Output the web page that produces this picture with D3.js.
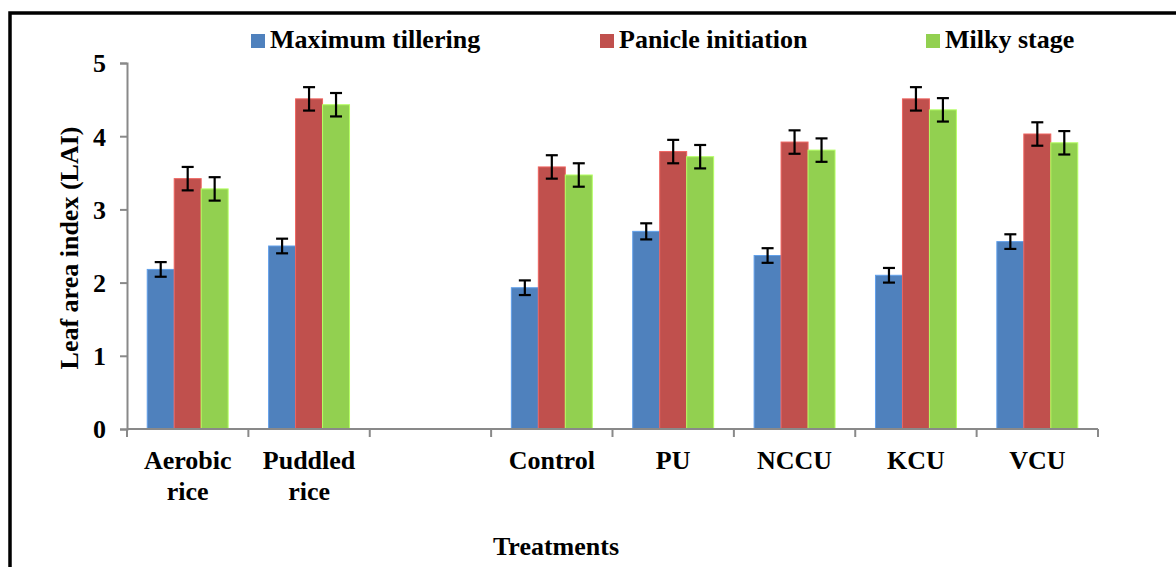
<!DOCTYPE html>
<html>
<head>
<meta charset="utf-8">
<script src="https://cdn.jsdelivr.net/npm/d3@7"></script>
<style>
  body { margin: 0; background: #fff; }
  svg { display: block; font-family: "Liberation Serif", "Times New Roman", serif; font-weight: bold; }
</style>
</head>
<body>
<svg id="chart" width="1176" height="567"></svg>
<script>
const categories = ['Aerobic rice', 'Puddled rice', '', 'Control', 'PU', 'NCCU', 'KCU', 'VCU'];
const series = ['Maximum tillering', 'Panicle initiation', 'Milky stage'];
const colors = ['#4F81BD', '#C0504D', '#92D050'];

// null = empty spacer category
const maxTillering = [2.18, 2.50, null, 1.93, 2.70, 2.37, 2.10, 2.56];
const panicleInit = [3.42, 4.51, null, 3.58, 3.79, 3.92, 4.51, 4.03];
const milkyStage = [3.28, 4.43, null, 3.47, 3.72, 3.81, 4.36, 3.91];

const errTillering = [0.10, 0.10, null, 0.10, 0.11, 0.10, 0.10, 0.10];
const errPanicle = [0.16, 0.16, null, 0.16, 0.16, 0.16, 0.16, 0.16];
const errMilky = [0.16, 0.16, null, 0.16, 0.16, 0.16, 0.16, 0.16];

const yTicks = [0, 1, 2, 3, 4, 5];

const values = [maxTillering, panicleInit, milkyStage];
const errors = [errTillering, errPanicle, errMilky];

const svg = d3.select('#chart');
const margin = { left: 127, right: 1098, top: 63, bottom: 429 };

// frame
svg.append('rect')
  .attr('x', 10).attr('y', 13)
  .attr('width', 1200).attr('height', 600)
  .attr('fill', 'none')
  .attr('stroke', '#000')
  .attr('stroke-width', 3.5);

const catKeys = categories.map((c, i) => i);
const x = d3.scaleBand().domain(catKeys).range([margin.left, margin.right]).padding(0);
const xs = d3.scaleBand().domain(series).range([0, x.bandwidth()]).paddingOuter(0.75).paddingInner(0);
const y = d3.scaleLinear().domain([0, 5]).range([margin.bottom, margin.top]);

// y axis
const yAxis = svg.append('g')
  .attr('transform', `translate(${margin.left},0)`)
  .call(d3.axisLeft(y).tickValues(yTicks).tickSize(7).tickPadding(14).tickFormat(d3.format('d')));
yAxis.select('.domain').attr('stroke', '#898989').attr('stroke-width', 2);
yAxis.selectAll('.tick line').attr('stroke', '#898989').attr('stroke-width', 2);
yAxis.selectAll('.tick text')
  .attr('font-size', 26).attr('font-family', 'Liberation Serif').attr('font-weight', 'bold')
  .attr('fill', '#000').attr('dy', '0.34em');

// bars
const data = [];
categories.forEach((c, i) => {
  series.forEach((s, j) => {
    if (values[j][i] != null) data.push({ ci: i, s: s, j: j, v: values[j][i], e: errors[j][i] });
  });
});

svg.append('g')
  .selectAll('rect')
  .data(data)
  .enter()
  .append('rect')
  .attr('x', d => x(d.ci) + xs(d.s))
  .attr('y', d => y(d.v))
  .attr('width', xs.bandwidth())
  .attr('height', d => y(0) - y(d.v))
  .attr('fill', d => colors[d.j])
  .attr('stroke', d => d3.color(colors[d.j]).brighter(0.6))
  .attr('stroke-width', 1);

// error bars
const eb = svg.append('g')
  .attr('stroke', '#000')
  .attr('stroke-width', 2.2)
  .selectAll('g')
  .data(data)
  .enter()
  .append('g')
  .attr('transform', d => `translate(${x(d.ci) + xs(d.s) + xs.bandwidth() / 2},0)`);
eb.append('line').attr('y1', d => y(d.v + d.e)).attr('y2', d => y(d.v - d.e));
eb.append('line').attr('x1', -6).attr('x2', 6).attr('y1', d => y(d.v + d.e)).attr('y2', d => y(d.v + d.e));
eb.append('line').attr('x1', -6).attr('x2', 6).attr('y1', d => y(d.v - d.e)).attr('y2', d => y(d.v - d.e));

// x axis
const xAxis = svg.append('g')
  .attr('transform', `translate(0,${margin.bottom})`)
  .call(d3.axisBottom(x).tickSize(0).tickPadding(0).tickFormat(i => categories[i]));
xAxis.select('.domain').remove();
xAxis.append('line')
  .attr('x1', margin.left).attr('x2', margin.right)
  .attr('stroke', '#898989').attr('stroke-width', 2);
xAxis.selectAll('.boundary')
  .data(catKeys.map(k => x(k)).concat([margin.right]))
  .enter()
  .append('line')
  .attr('x1', d => d).attr('x2', d => d)
  .attr('y1', 0).attr('y2', 8)
  .attr('stroke', '#898989').attr('stroke-width', 2);

xAxis.selectAll('.tick text')
  .attr('font-size', 26).attr('font-family', 'Liberation Serif').attr('font-weight', 'bold')
  .attr('fill', '#000')
  .attr('dy', null)
  .attr('y', 0)
  .each(function (i) {
    const t = d3.select(this);
    const words = categories[i].split(/\s+/);
    t.text(null);
    words.forEach((w, k) => {
      t.append('tspan').attr('x', 0).attr('y', 40 + k * 31).text(w);
    });
  });

// axis titles
svg.append('text')
  .attr('x', 556).attr('y', 555)
  .attr('text-anchor', 'middle')
  .attr('font-size', 26)
  .text('Treatments');

svg.append('text')
  .attr('transform', 'translate(78,248) rotate(-90)')
  .attr('text-anchor', 'middle')
  .attr('font-size', 26)
  .text('Leaf area index (LAI)');

// legend
const legendX = [251, 600, 926];
const legend = svg.append('g')
  .selectAll('g')
  .data(series)
  .enter()
  .append('g')
  .attr('transform', (d, i) => `translate(${legendX[i]},34)`);
legend.append('rect')
  .attr('width', 14).attr('height', 14)
  .attr('fill', (d, i) => colors[i]);
legend.append('text')
  .attr('x', 19).attr('y', 14)
  .attr('font-size', 26)
  .text(d => d);
</script>
</body>
</html>
